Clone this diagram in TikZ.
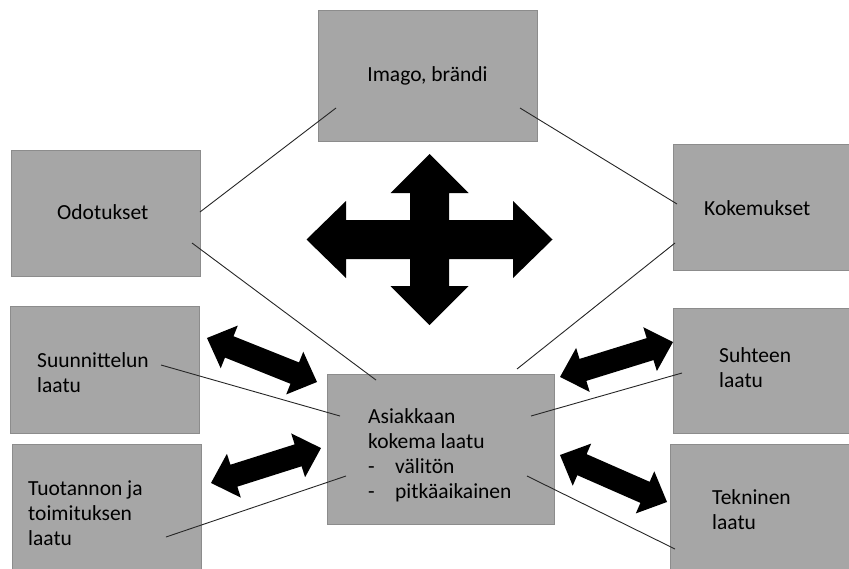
\documentclass[tikz,border=0pt]{standalone}
\usepackage{fontspec}
\setmainfont{Carlito}
\usetikzlibrary{calc,positioning}
\definecolor{boxgray}{RGB}{166,166,166}
\definecolor{edgegray}{RGB}{140,140,140}
\tikzset{bx/.style={draw=edgegray,line width=1pt,fill=boxgray,rectangle,inner
sep=0pt},tx/.style={anchor=west,inner sep=0pt,align=left,text=black,font=\fontsize{21.5}{25}\selectfont},ln/.style={draw=black!85,line
width=0.9pt}}

\begin{document}
\begin{tikzpicture}[x=1pt,y=-1pt]
	\useasboundingbox (0,0) rectangle (849,568);
	\node[bx,minimum width=219pt,minimum height=131pt] (imago) at (427.5,75.5) {};
	\node[bx,minimum width=189pt,minimum height=126pt] (odot) at (105.5,213) {};
	\node[bx,minimum width=189pt,minimum height=126pt] (kokem) at (767.5,207) {};
	\node[bx,minimum width=189pt,minimum height=127pt] (suunn) at (104.5,369.5) {};
	\node[bx,minimum width=189pt,minimum height=127pt] (tuot) at (106.5,507.5) {};
	\node[bx,minimum width=227pt,minimum height=150pt] (asiak) at (440.5,449) {};
	\node[bx,minimum width=189pt,minimum height=125pt] (suht) at (767.5,370.5) {};
	\node[bx,minimum width=189pt,minimum height=127pt] (tekn) at (764.5,507.5) {};

	\node[tx,anchor=center] (timago) at (imago) {Imago, brändi};
	\node[tx] (todot) at (57,212) {Odotukset};
	\node[tx] (tkokem) at (704,208) {Kokemukset};
	\node[tx] (tsuunn) at (37,372.5) {Suunnittelun\\laatu};
	\node[tx] (ttuot) at (28,513) {Tuotannon ja\\toimituksen\\laatu};
	\node[tx] (tasiak) at (368,455) {Asiakkaan\\kokema laatu\\\makebox[27pt][l]{-}välitön\\\makebox[27pt][l]{-}pitkäaikainen};
	\node[tx] (tsuht) at (719,367.5) {Suhteen\\laatu};
	\node[tx] (ttekn) at (712,509.5) {Tekninen\\laatu};

	\coordinate (a1) at (200,212); \coordinate (b1) at (336,108);
	\coordinate (a2) at (520,108); \coordinate (b2) at (677,204);
	\coordinate (a3) at (192,243); \coordinate (b3) at (376,380);
	\coordinate (a4) at (675,243); \coordinate (b4) at (517,369);
	\coordinate (a5) at (161,365); \coordinate (b5) at (340,416);
	\coordinate (a6) at (682,373); \coordinate (b6) at (531,416);
	\coordinate (a7) at (166,537); \coordinate (b7) at (346,476);
	\coordinate (a8) at (675,549); \coordinate (b8) at (527,476);
	\foreach \i in {1,...,8}
		\draw[ln] (a\i) -- (b\i);

	\fill[black,shift={(429.5,239.5)}] (0,-85.5) -- (39,-46.5) -- (19.5,-46.5) -- (19.5,-19.5)
		-- (83.5,-19.5) -- (83.5,-38.5) -- (123,0) -- (83.5,38.5) -- (83.5,19.5) -- (19.5,19.5)
		-- (19.5,46.5) -- (39,46.5) -- (0,85.5) -- (-39,46.5) -- (-19.5,46.5) -- (-19.5,19.5)
		-- (-83.5,19.5) -- (-83.5,38.5) -- (-123,0) -- (-83.5,-38.5) -- (-83.5,-19.5)
		-- (-19.5,-19.5) -- (-19.5,-46.5) -- (-39,-46.5) -- cycle;

	\foreach \mx/\my/\ang/\len in {262/360/-21.8/118.5,266/465.5/17.6/115.4,616.5/359.5/17.2/118.3,613.5/478.5/-23.7/116.9}
		\fill[black,shift={(\mx,\my)},rotate=\ang] (-\len/2,0) -- (-\len/2+24,23) -- (-\len/2+24,11.5)
			-- (\len/2-24,11.5) -- (\len/2-24,23) -- (\len/2,0) -- (\len/2-24,-23) -- (\len/2-24,-11.5)
			-- (-\len/2+24,-11.5) -- (-\len/2+24,-23) -- cycle;
\end{tikzpicture}
\end{document}
